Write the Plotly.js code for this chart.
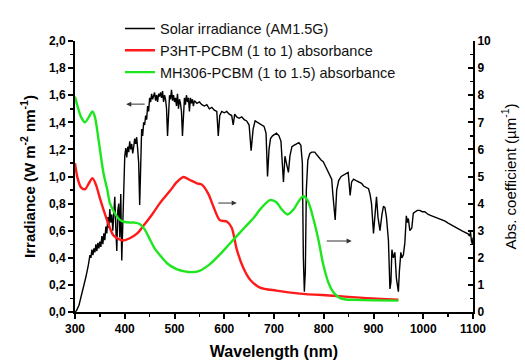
<!DOCTYPE html>
<html>
<head>
<meta charset="utf-8">
<script src="https://cdn.plot.ly/plotly-3.0.1.min.js"></script>
<style>html,body{margin:0;padding:0;background:#fff;}#chart{width:525px;height:363px;}</style>
</head>
<body>
<div id="chart"></div>
<script>
// Solar irradiance AM1.5G (left axis, W m^-2 nm^-1)
const solarWl = [300,303,308,313,317,322,327,330,332,334,336,338,340,342,344,346,348,350,352,354,356,358,360,362,364,366,368,370,372,374,376,378,380,382,384,386,388,390,392,394,396,398,400,402,404,406,408,410,412,414,416,418,420,422,424,426,428,430,432,434,436,438,440,442,444,446,448,450,452,454,456,458,460,462,464,466,468,470,472,474,476,478,480,482,484,486,488,490,492,494,496,498,500,502,504,506,508,510,512,514,516,518,520,522,524,526,528,530,532,534,536,538,540,545,550,555,560,565,570,575,580,585,588,591,595,600,605,610,615,618,621,625,630,635,640,645,650,654,658,662,666,670,675,680,684,687,690,693,697,700,705,710,714,719,722,726,729,732,736,740,745,750,754,757,759,761,763,765,768,772,776,782,786,790,795,799,803,808,812,816,818,820,823,826,830,835,840,845,849,851,853,856,860,865,870,876,880,885,890,893,896,900,903,906,909,913,917,920,923,926,930,933,935,937,940,943,946,948,950,952,955,957,960,963,966,968,970,973,977,980,983,988,993,998,1003,1010,1017,1024,1030,1037,1044,1050,1057,1064,1070,1077,1083,1090,1093,1095,1097,1099,1100];
const solarIrr = [0.0,0.01,0.05,0.12,0.17,0.26,0.35,0.42,0.40,0.46,0.42,0.47,0.44,0.50,0.45,0.51,0.47,0.52,0.48,0.56,0.50,0.58,0.53,0.63,0.58,0.70,0.62,0.76,0.66,0.72,0.60,0.80,0.85,0.62,0.45,0.75,0.80,0.55,0.87,0.38,0.70,0.85,1.15,1.21,1.14,1.22,1.18,1.26,1.20,1.24,1.17,1.22,1.28,1.24,1.29,1.20,1.10,0.79,1.05,1.35,1.30,1.40,1.38,1.45,1.42,1.52,1.48,1.58,1.55,1.61,1.57,1.60,1.62,1.56,1.60,1.55,1.61,1.59,1.62,1.58,1.63,1.55,1.60,1.57,1.50,1.30,1.52,1.60,1.57,1.64,1.56,1.60,1.55,1.58,1.52,1.61,1.50,1.57,1.54,1.48,1.30,1.45,1.58,1.53,1.60,1.55,1.58,1.48,1.58,1.54,1.57,1.52,1.56,1.54,1.55,1.53,1.52,1.53,1.50,1.51,1.49,1.48,1.30,1.45,1.48,1.47,1.48,1.46,1.45,1.38,1.46,1.44,1.43,1.44,1.42,1.41,1.38,1.19,1.35,1.41,1.40,1.39,1.38,1.37,1.32,1.00,1.20,1.28,1.30,1.31,1.32,1.30,1.26,0.96,1.15,1.08,1.03,1.15,1.22,1.23,1.24,1.25,1.23,1.10,0.40,0.15,0.30,0.90,1.12,1.17,1.18,1.18,1.16,1.14,1.12,1.11,1.08,1.05,1.01,0.98,0.88,0.80,0.68,0.90,0.97,1.00,1.01,1.02,1.03,0.95,0.86,0.96,0.98,0.97,0.96,0.95,0.93,0.92,0.91,0.87,0.80,0.58,0.75,0.85,0.70,0.60,0.72,0.78,0.77,0.70,0.53,0.17,0.22,0.46,0.40,0.44,0.25,0.18,0.15,0.30,0.44,0.40,0.42,0.51,0.71,0.66,0.69,0.60,0.62,0.73,0.74,0.75,0.75,0.74,0.74,0.72,0.71,0.70,0.69,0.68,0.67,0.656,0.64,0.63,0.61,0.60,0.59,0.577,0.56,0.59,0.52,0.50,0.55];

// P3HT-PCBM (1 to 1) absorbance (right axis, µm^-1)
const p3htWl = [300,305,312,320,328,335,342,350,357,367,377,387,397,410,425,437,455,470,491,505,518,530,545,555,568,578,591,605,615,625,638,652,672,705,752,819,880,950];
const p3htAbs = [5.49,4.95,4.6,4.53,4.75,4.94,4.7,4.2,3.79,3.25,2.83,2.7,2.64,2.72,2.9,3.17,3.6,4.0,4.47,4.8,4.98,4.88,4.75,4.7,4.36,3.9,3.39,3.34,3.11,2.32,1.64,1.19,0.9,0.79,0.68,0.6,0.52,0.45];

// MH306-PCBM (1 to 1.5) absorbance (right axis, µm^-1)
const mh306Wl = [300,305,312,320,328,335,340,347,357,365,370,380,390,400,410,420,430,440,450,460,471,485,504,520,535,550,570,590,610,618,640,658,675,692,705,715,727,740,750,759,768,779,790,799,810,819,833,845,856,900,950];
const mh306Abs = [7.95,7.6,7.2,7.0,7.2,7.4,7.2,6.4,5.15,4.5,4.03,3.65,3.4,3.32,3.3,3.3,3.25,3.05,2.7,2.35,2.09,1.8,1.58,1.5,1.47,1.52,1.75,2.1,2.5,2.66,3.1,3.45,3.85,4.13,4.05,3.8,3.6,3.8,4.1,4.27,4.1,3.45,2.6,1.75,1.05,0.74,0.51,0.46,0.45,0.43,0.42];

const seriesNames = ['Solar irradiance (AM1.5G)','P3HT-PCBM (1 to 1) absorbance','MH306-PCBM (1 to 1.5) absorbance'];

const FONT = 'Liberation Sans, Arial, sans-serif';

const traces = [
  {x: solarWl, y: solarIrr, name: seriesNames[0], type: 'scatter', mode: 'lines', yaxis: 'y', line: {color: '#000000', width: 1.4}},
  {x: p3htWl, y: p3htAbs, name: seriesNames[1], type: 'scatter', mode: 'lines', yaxis: 'y2', line: {color: '#ff1a1a', width: 2.4, shape: 'spline', smoothing: 0.8}},
  {x: mh306Wl, y: mh306Abs, name: seriesNames[2], type: 'scatter', mode: 'lines', yaxis: 'y2', line: {color: '#1ee61e', width: 2.4, shape: 'spline', smoothing: 0.8}}
];

const tickFont = {family: FONT, size: 12, color: '#000', weight: 'bold'};

const layout = {
  width: 525, height: 363,
  margin: {l: 75, r: 52, t: 17, b: 51},
  paper_bgcolor: '#fff', plot_bgcolor: '#fff',
  separators: ', ',
  showlegend: true,
  legend: {x: 0.113, y: 1.105, xanchor: 'left', yanchor: 'top', bgcolor: 'rgba(255,255,255,0)', borderwidth: 0,
           font: {family: FONT, size: 14.5, color: '#111'}, tracegroupgap: 0, itemwidth: 30},
  xaxis: {range: [300, 1100], dtick: 100, tick0: 300, showgrid: false, zeroline: false,
          showline: true, linecolor: '#000', linewidth: 2, ticks: 'outside', ticklen: 5, tickwidth: 2, tickcolor: '#000',
          minor: {dtick: 50, ticks: 'outside', ticklen: 3, tickwidth: 1.5, tickcolor: '#000'},
          tickfont: tickFont,
          title: {text: 'Wavelength (nm)', font: {family: FONT, size: 16, color: '#000', weight: 'bold'}, standoff: 10}},
  yaxis: {range: [0, 2.0], dtick: 0.2, tickformat: '.1f', showgrid: false, zeroline: false,
          showline: true, linecolor: '#000', linewidth: 2, ticks: 'outside', ticklen: 5, tickwidth: 2, tickcolor: '#000',
          minor: {dtick: 0.1, ticks: 'outside', ticklen: 3, tickwidth: 1.5, tickcolor: '#000'},
          tickfont: tickFont,
          title: {text: 'Irradiance (W m<sup>-2</sup> nm<sup>-1</sup>)', font: {family: FONT, size: 15, color: '#000', weight: 'bold'}, standoff: 10}},
  yaxis2: {range: [0, 10], dtick: 1, overlaying: 'y', side: 'right', showgrid: false, zeroline: false,
          showline: true, linecolor: '#000', linewidth: 2, ticks: 'inside', ticklen: 5, tickwidth: 2, tickcolor: '#000',
          minor: {dtick: 0.5, ticks: 'inside', ticklen: 3, tickwidth: 1.5, tickcolor: '#000'},
          tickfont: tickFont,
          title: {text: 'Abs. coefficient (µm<sup>-1</sup>)', font: {family: FONT, size: 15, color: '#000'}, standoff: 15}},
  annotations: [
    {x: 403, y: 1.534, xref: 'x', yref: 'y', ax: 443, ay: 1.534, axref: 'x', ayref: 'y', showarrow: true, arrowhead: 2, arrowsize: 1, arrowwidth: 1, arrowcolor: '#333', text: ''},
    {x: 625, y: 4.02, xref: 'x', yref: 'y2', ax: 585, ay: 4.02, axref: 'x', ayref: 'y2', showarrow: true, arrowhead: 2, arrowsize: 1, arrowwidth: 1, arrowcolor: '#333', text: ''},
    {x: 856, y: 2.62, xref: 'x', yref: 'y2', ax: 803, ay: 2.62, axref: 'x', ayref: 'y2', showarrow: true, arrowhead: 2, arrowsize: 1, arrowwidth: 1, arrowcolor: '#333', text: ''}
  ]
};

Plotly.newPlot('chart', traces, layout, {displayModeBar: false, staticPlot: true});
</script>
</body>
</html>
